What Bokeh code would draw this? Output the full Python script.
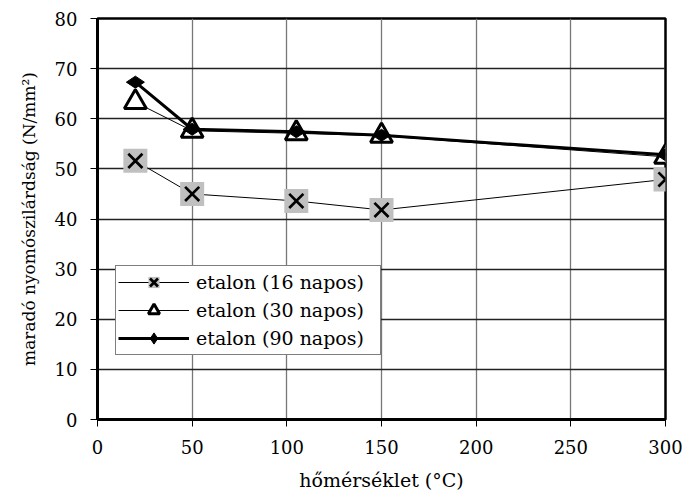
import math
from bokeh.plotting import figure
from bokeh.models import Range1d, FixedTicker, Legend, LegendItem
from bokeh.embed import file_html
from bokeh.resources import INLINE

temps = [20, 50, 105, 150, 300]
s16 = [51.6, 45.0, 43.6, 41.8, 47.9]
s30 = [63.3, 57.6, 57.1, 56.6, 52.4]
s90 = [67.3, 57.9, 57.4, 56.7, 52.8]
labels = ["etalon (16 napos)", "etalon (30 napos)", "etalon (90 napos)"]
xticks = [0, 50, 100, 150, 200, 250, 300]
yticks = [0, 10, 20, 30, 40, 50, 60, 70, 80]

FONT = "DejaVu Serif"

p = figure(width=684, height=498, output_backend="svg", toolbar_location=None,
           x_range=Range1d(0, 300), y_range=Range1d(0, 80),
           min_border_left=97, min_border_top=18, min_border_right=19, min_border_bottom=79)
p.background_fill_color = "white"
p.border_fill_color = "white"
p.outline_line_color = "black"
p.outline_line_width = 2.5

for ax in (p.xaxis[0], p.yaxis[0]):
    ax.axis_line_width = 3
    ax.axis_line_color = "black"
    ax.major_tick_in = 0
    ax.major_tick_out = 7
    ax.major_tick_line_color = "black"
    ax.major_tick_line_width = 1
    ax.minor_tick_line_color = None
    ax.major_label_text_font = FONT
    ax.major_label_text_font_size = "18px"
    ax.major_label_text_color = "black"
    ax.axis_label_text_font = FONT
    ax.axis_label_text_font_style = "normal"
    ax.axis_label_text_color = "black"

p.xaxis.ticker = FixedTicker(ticks=xticks)
p.yaxis.ticker = FixedTicker(ticks=yticks)
p.xaxis.axis_label = "hőmérséklet (°C)"
p.yaxis.axis_label = "maradó nyomószilárdság (N/mm²)"
p.xaxis.axis_label_text_font_size = "19px"
p.yaxis.axis_label_text_font_size = "17px"
p.xaxis.major_label_standoff = 13
p.xaxis.axis_label_standoff = 12
p.yaxis.major_label_standoff = 13
p.yaxis.axis_label_standoff = 13

p.xgrid.grid_line_color = "#777777"
p.ygrid.grid_line_color = "#222222"
p.xgrid.grid_line_width = 1.3
p.ygrid.grid_line_width = 1.3

# 16 napos
l16 = p.line(temps, s16, line_color="black", line_width=1)
sq16 = p.scatter(temps, s16, marker="square", size=24, fill_color="#c0c0c0", line_color=None)
x16 = p.scatter(temps, s16, marker="x", size=20, line_color="black", line_width=2.7)
# 30 napos
l30 = p.line(temps, s30, line_color="black", line_width=1)
t30 = p.scatter(temps, s30, marker="triangle", size=22, fill_color="white", line_color="black", line_width=3)
# 90 napos
l90 = p.line(temps, s90, line_color="black", line_width=3)
d90 = p.scatter(temps, s90, marker="diamond", size=18, angle=math.pi / 2,
                fill_color="black", line_color="black")

legend = Legend(items=[
    LegendItem(label=labels[0], renderers=[l16, sq16, x16]),
    LegendItem(label=labels[1], renderers=[l30, t30]),
    LegendItem(label=labels[2], renderers=[l90, d90]),
], location=(18, 64))
legend.glyph_width = 71
legend.glyph_height = 28
legend.label_height = 28
legend.label_width = 182
legend.label_text_font = FONT
legend.label_text_font_size = "19px"
legend.label_text_color = "black"
legend.label_standoff = 7
legend.spacing = 0
legend.padding = 2
legend.margin = 0
legend.border_line_color = "black"
legend.border_line_width = 1.3
legend.background_fill_alpha = 1
p.add_layout(legend, "center")

open("out.html", "w").write(file_html(p, INLINE))
